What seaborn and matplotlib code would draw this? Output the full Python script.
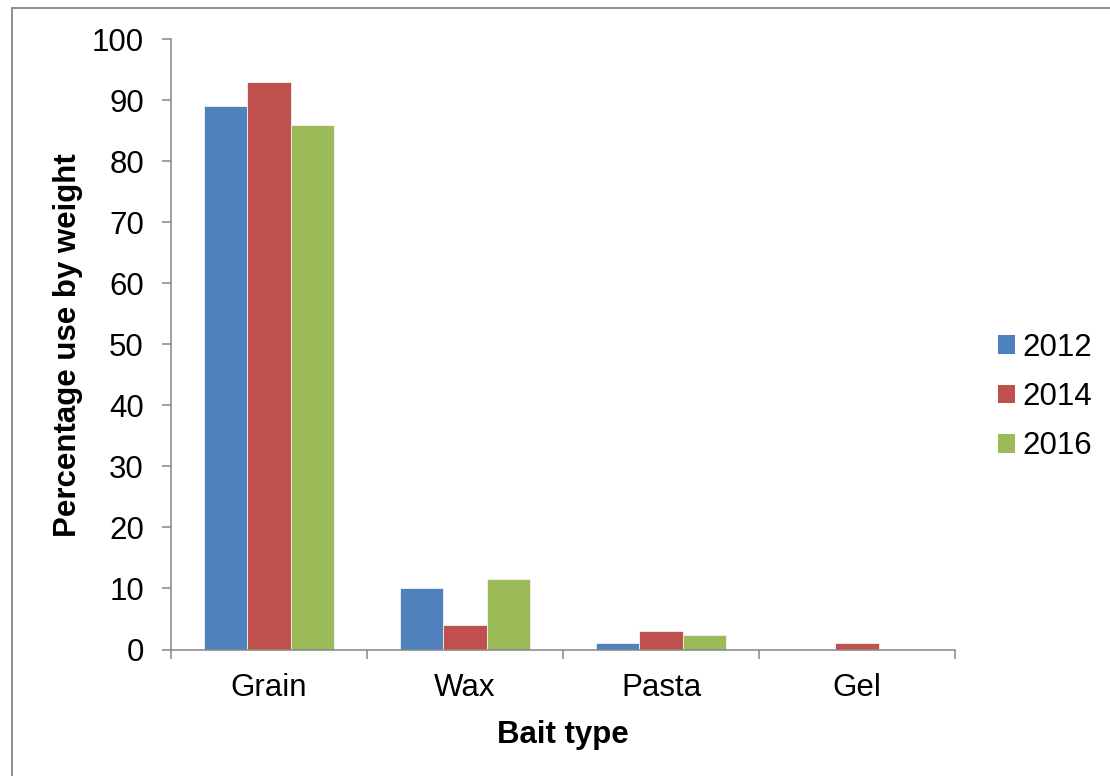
import numpy as np
import pandas as pd
import matplotlib
matplotlib.use("Agg")
import matplotlib.pyplot as plt
import seaborn as sns
from matplotlib.lines import Line2D
from matplotlib.patches import Patch
from matplotlib.ticker import FixedLocator

# Bait use shares (percent by weight) per survey year
bait_types = ["Grain", "Wax", "Pasta", "Gel"]
years = ["2012", "2014", "2016"]
share_2012 = [89, 10, 1, 0]
share_2014 = [93, 4, 3, 1]
share_2016 = [86, 11.6, 2.3, 0]
year_colors = ["#4F81BD", "#C0504D", "#9BBB59"]

df = pd.DataFrame({
    "Bait type": bait_types * 3,
    "Year": np.repeat(years, len(bait_types)),
    "Share": share_2012 + share_2014 + share_2016,
})

sns.set_theme(style="white")
plt.rcParams["font.family"] = ["Liberation Sans", "DejaVu Sans"]
plt.rcParams["text.color"] = "black"

FS = 22.5
GRAY = "#868686"

fig = plt.figure(figsize=(11.1, 7.76), dpi=100)
W, H = 1110, 776
ax = fig.add_axes([171 / W, 1 - 649.5 / H, (955 - 171) / W, (649.5 - 39.3) / H])

sns.barplot(data=df, x="Bait type", y="Share", hue="Year", hue_order=years,
            palette=year_colors, saturation=1, width=0.667, errorbar=None,
            edgecolor="#f4f4f4", linewidth=0.6, ax=ax, legend=False)

ax.set_ylim(0, 100)
ax.set_xlim(-0.5, len(bait_types) - 0.5)
ax.set_yticks(range(0, 101, 10))

for side in ("top", "right"):
    ax.spines[side].set_visible(False)
for side in ("left", "bottom"):
    ax.spines[side].set_color(GRAY)
    ax.spines[side].set_linewidth(1.1)

ax.tick_params(axis="y", direction="out", length=6.5, width=1.1, color=GRAY,
               labelsize=FS, labelcolor="black", pad=13, left=True)
ax.tick_params(axis="x", which="major", length=0, labelsize=FS,
               labelcolor="black", pad=17)
ax.xaxis.set_minor_locator(FixedLocator(np.arange(-0.5, len(bait_types), 1.0)))
ax.tick_params(axis="x", which="minor", direction="out", length=6.5,
               width=1.1, color=GRAY, bottom=True)

ax.set_xlabel("Bait type", fontsize=FS, fontweight="bold", color="black", va="top")
ax.xaxis.set_label_coords(0.5, -0.115)
ax.set_ylabel("Percentage use by weight", fontsize=FS, fontweight="bold",
              color="black", va="center")
ax.yaxis.set_label_coords(-0.131, 0.499)

handles = [Patch(facecolor=c, edgecolor="none", label=y) for c, y in zip(year_colors, years)]
fig.legend(handles=handles, loc="center left", bbox_to_anchor=(998 / W, 1 - 397 / H),
           frameon=False, fontsize=FS, labelcolor="black",
           handlelength=0.55, handleheight=0.55,
           handletextpad=0.22, labelspacing=0.62, borderpad=0, borderaxespad=0)

# chart-area border along the top and left edges
fig.add_artist(Line2D([12 / W, 1.0], [1 - 8 / H, 1 - 8 / H], transform=fig.transFigure,
                      color=GRAY, lw=1.3))
fig.add_artist(Line2D([12 / W, 12 / W], [0.0, 1 - 8 / H], transform=fig.transFigure,
                      color=GRAY, lw=1.3))

fig.savefig("out.png", dpi=100, facecolor="white")
